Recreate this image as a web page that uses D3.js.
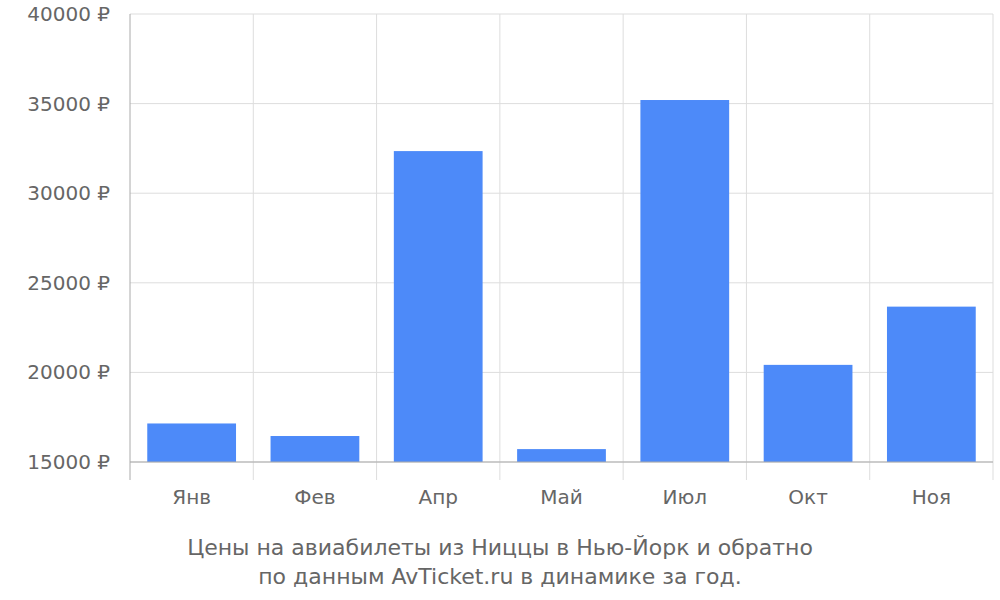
<!DOCTYPE html>
<html><head><meta charset="utf-8">
<script src="https://cdn.jsdelivr.net/npm/d3@7"></script>
<style>body{margin:0;background:#fff}text{font-family:"DejaVu Sans",sans-serif;fill:#666}</style>
</head><body><div id="chart"></div>
<script>
// data
const months = ["Янв","Фев","Апр","Май","Июл","Окт","Ноя"];
const prices = [17150,16450,32350,15720,35200,20420,23670];
const yTicks = [15000,20000,25000,30000,35000,40000];

const width = 1000, height = 600;
const margin = {left:130, right:7, top:14, bottom:138};

const svg = d3.select("#chart").append("svg")
  .attr("width", width).attr("height", height);

const x = d3.scaleBand().domain(months)
  .range([margin.left, width - margin.right]).padding(0);
const y = d3.scaleLinear().domain([15000,40000])
  .range([height - margin.bottom, margin.top]);

// horizontal grid
svg.selectAll(".hg").data(yTicks).enter().append("line")
  .attr("x1", margin.left).attr("x2", width - margin.right)
  .attr("y1", d => y(d)).attr("y2", d => y(d))
  .attr("stroke", "#ddd");

// vertical grid at band edges
const edges = months.map(m => x(m) + x.bandwidth()).slice(0, -1).concat([width - margin.right]);
svg.selectAll(".vg").data(edges).enter().append("line")
  .attr("x1", d => d).attr("x2", d => d)
  .attr("y1", margin.top).attr("y2", y(15000) + 18)
  .attr("stroke", "#ddd");

// bars
const inset = x.bandwidth() * 0.14;
svg.selectAll(".bar").data(prices).enter().append("rect")
  .attr("x", (d,i) => x(months[i]) + inset)
  .attr("width", x.bandwidth() - 2*inset)
  .attr("y", d => y(d))
  .attr("height", d => y(15000) - y(d))
  .attr("fill", "#4d8af9");

// axes lines
svg.append("line").attr("x1", margin.left).attr("x2", margin.left)
  .attr("y1", margin.top).attr("y2", y(15000) + 18).attr("stroke", "#aaa");
svg.append("line").attr("x1", margin.left).attr("x2", width - margin.right)
  .attr("y1", y(15000)).attr("y2", y(15000)).attr("stroke", "#aaa");

// y labels
svg.selectAll(".yl").data(yTicks).enter().append("text")
  .attr("x", 110).attr("y", d => y(d) + 7)
  .attr("text-anchor", "end").attr("font-size", 20)
  .text(d => d + " ₽");

// x labels
svg.selectAll(".xl").data(months).enter().append("text")
  .attr("x", d => x(d) + x.bandwidth()/2).attr("y", 504)
  .attr("text-anchor", "middle").attr("font-size", 20)
  .text(d => d);

// caption
svg.append("text").attr("x", 500).attr("y", 555).attr("text-anchor", "middle")
  .attr("font-size", 22).text("Цены на авиабилеты из Ниццы в Нью-Йорк и обратно");
svg.append("text").attr("x", 500).attr("y", 584).attr("text-anchor", "middle")
  .attr("font-size", 22).text("по данным AvTicket.ru в динамике за год.");
</script></body></html>
